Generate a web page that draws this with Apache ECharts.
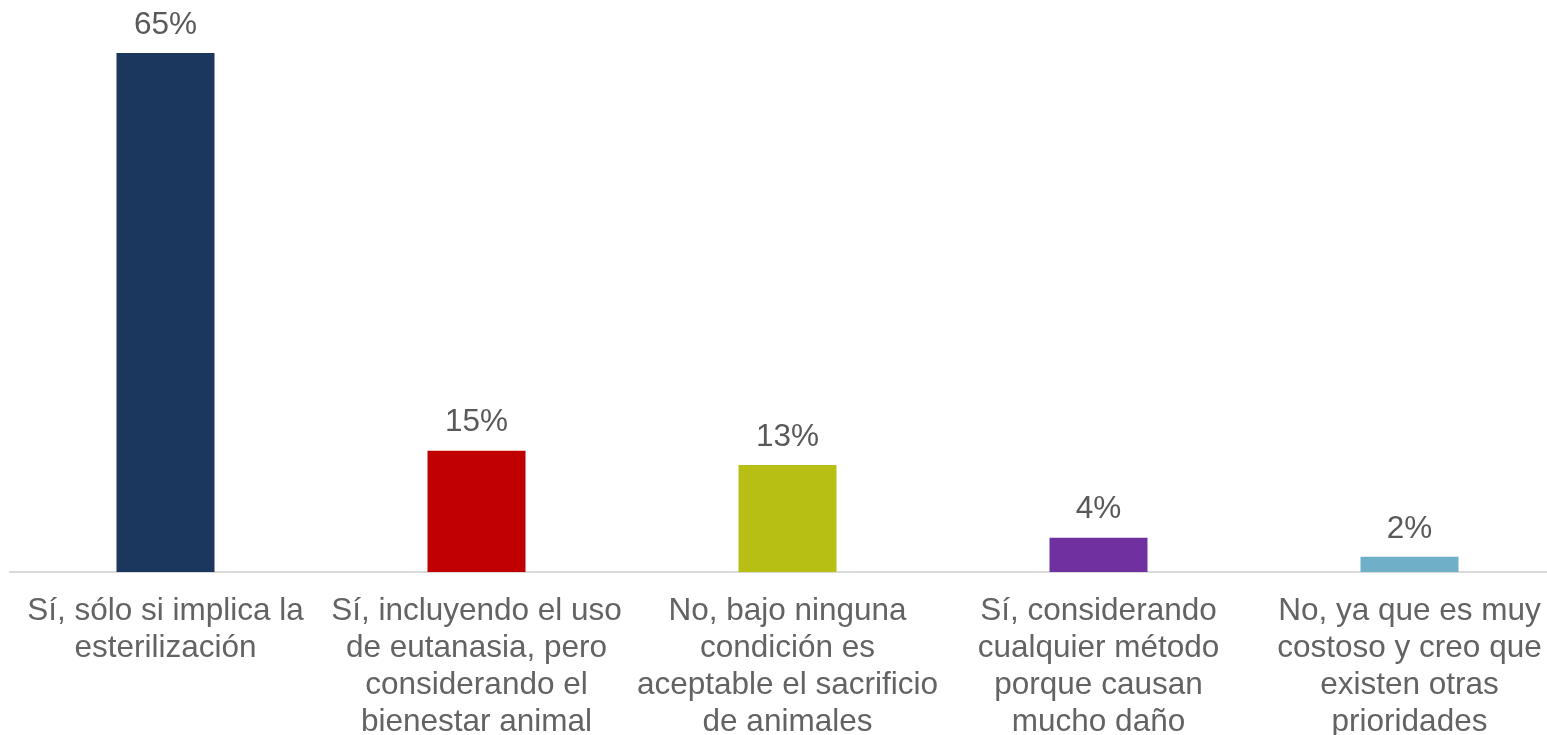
<!DOCTYPE html>
<html>
<head>
<meta charset="utf-8">
<script src="https://cdn.jsdelivr.net/npm/echarts@6/dist/echarts.min.js"></script>
<style>
  html, body { margin: 0; padding: 0; background: #fff; }
  #chart { width: 1547px; height: 735px; }
</style>
</head>
<body>
<div id="chart"></div>
<script>
// respuestas
const categories = [
  "Sí, sólo si implica la\nesterilización",
  "Sí, incluyendo el uso\nde eutanasia, pero\nconsiderando el\nbienestar animal",
  "No, bajo ninguna\ncondición es\naceptable el sacrificio\nde animales",
  "Sí, considerando\ncualquier método\nporque causan\nmucho daño",
  "No, ya que es muy\ncostoso y creo que\nexisten otras\nprioridades"
]
const values = [65, 15.2, 13.4, 4.3, 1.9]
const barColors = ["#1c375e", "#c00000", "#b7bf14", "#7030a0", "#6fb0c8"]

const myEcharts = echarts.init(document.getElementById("chart"))
myEcharts.setOption({
  animation: false,
  grid: { left: 10, top: 53, right: -18, bottom: 163, containLabel: false, outerBoundsMode: "none" },
  xAxis: {
    type: "category",
    data: categories,
    axisTick: { show: false },
    axisLine: { lineStyle: { color: "#d9d9d9", width: 2 } },
    axisLabel: {
      interval: 0,
      margin: 21,
      fontFamily: "Liberation Sans, Arial, sans-serif",
      fontSize: 31.5,
      lineHeight: 37,
      color: "#636363"
    }
  },
  yAxis: { type: "value", min: 0, max: 65, show: false, splitLine: { show: false } },
  series: [{
    type: "bar",
    barWidth: 98,
    data: values.map((v, i) => ({ value: v, itemStyle: { color: barColors[i] } })),
    label: {
      show: true,
      position: "top",
      distance: 12,
      formatter: p => Math.round(p.value) + "%",
      fontFamily: "Liberation Sans, Arial, sans-serif",
      fontSize: 31.5,
      color: "#595959"
    }
  }]
})
</script>
</body>
</html>
